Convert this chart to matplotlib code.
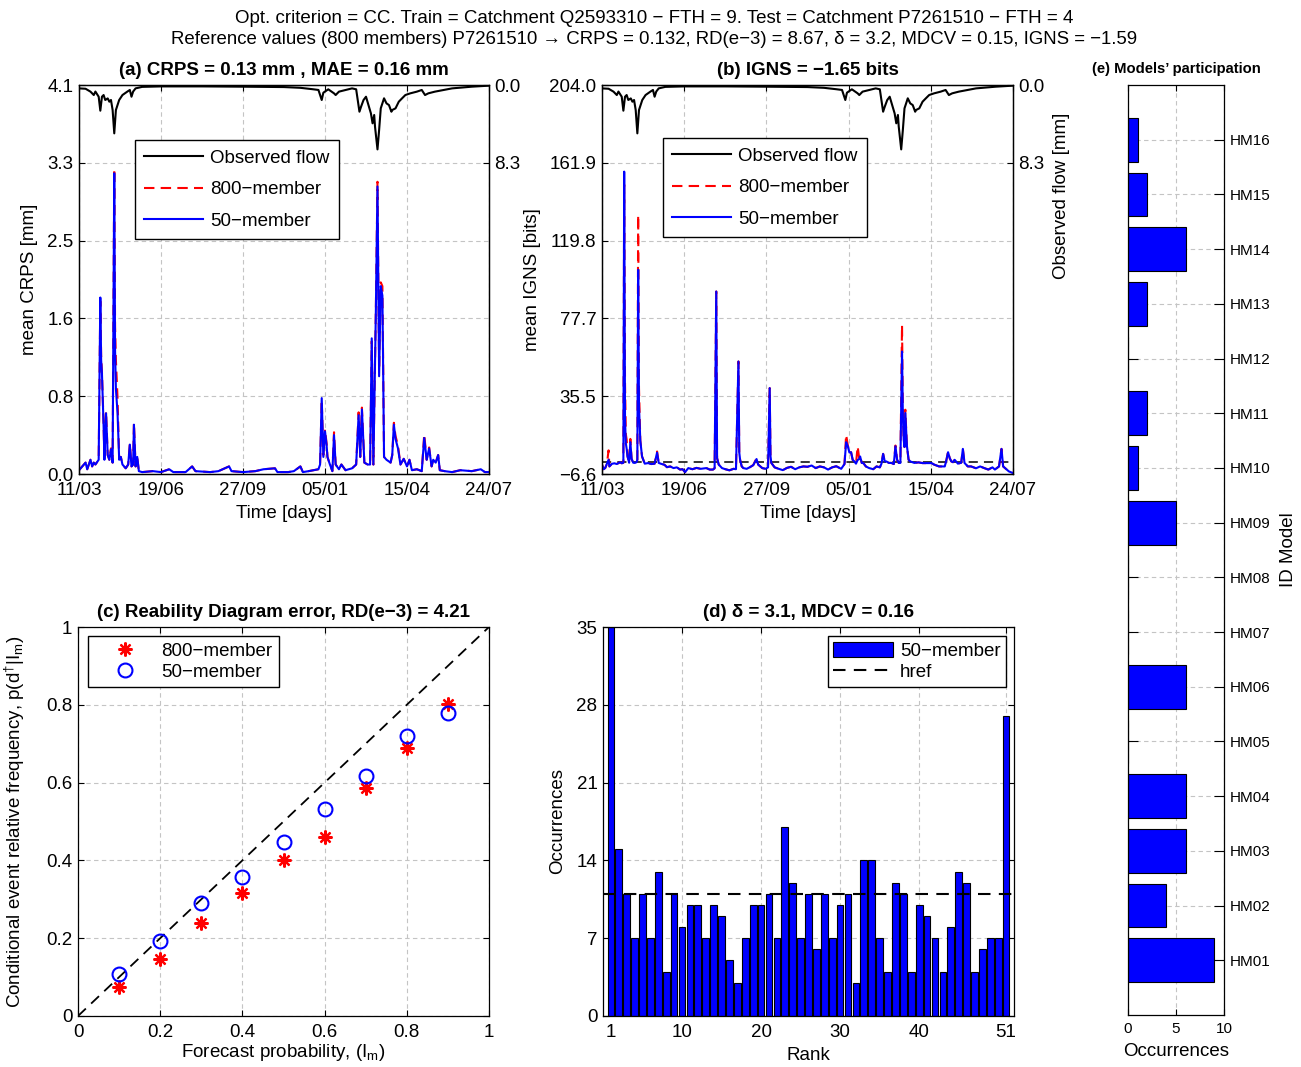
import numpy as np
import matplotlib
matplotlib.use('Agg')
import matplotlib.pyplot as plt
from matplotlib.lines import Line2D
from matplotlib.patches import Patch

plt.rcParams['font.family'] = ['Liberation Sans', 'DejaVu Sans']
plt.rcParams['mathtext.fontset'] = 'custom'
plt.rcParams['mathtext.rm'] = 'Liberation Sans'
plt.rcParams['mathtext.it'] = 'Liberation Sans:italic'
plt.rcParams['mathtext.default'] = 'regular'

# ---------------- data ----------------
date_ticks = [0, 100, 200, 300, 400, 500]
date_labels = ['11/03', '19/06', '27/09', '05/01', '15/04', '24/07']

# (a) mean CRPS time series (day index, value in mm)
crps_days = [0, 4, 8, 10, 14, 16, 18, 20, 24, 26,
             27, 28, 30, 31, 33, 35, 37, 39, 41, 43,
             44, 45, 47, 49, 51, 53, 57, 60, 62, 64,
             66, 67, 69, 71, 73, 77, 90, 100, 110, 115,
             130, 138, 142, 160, 170, 183, 186, 200, 215, 225,
             239, 242, 255, 262, 270, 273, 280, 292, 294, 296,
             298, 300, 302, 303, 306, 309, 311, 313, 317, 320,
             325, 333, 338, 341, 343, 345, 348, 352, 355, 357,
             359, 362, 364, 366, 368, 370, 372, 375, 380, 382,
             384, 386, 389, 392, 396, 400, 403, 406, 412, 418,
             421, 424, 427, 430, 432, 435, 438, 440, 446, 455,
             465, 479, 490, 495, 500]
crps_50 = [0.04, 0.08, 0.12, 0.05, 0.15, 0.08, 0.12, 0.10, 0.15, 1.86,
           1.20, 1.06, 0.50, 0.15, 0.64, 0.20, 0.15, 0.26, 0.12, 3.17,
           1.30, 0.90, 0.64, 0.15, 0.18, 0.10, 0.06, 0.10, 0.31, 0.08,
           0.10, 0.52, 0.08, 0.18, 0.03, 0.02, 0.03, 0.02, 0.05, 0.02,
           0.02, 0.08, 0.03, 0.02, 0.03, 0.08, 0.03, 0.02, 0.03, 0.05,
           0.06, 0.02, 0.02, 0.03, 0.08, 0.02, 0.03, 0.05, 0.10, 0.80,
           0.18, 0.45, 0.30, 0.18, 0.10, 0.03, 0.41, 0.10, 0.05, 0.10,
           0.04, 0.06, 0.10, 0.62, 0.18, 0.68, 0.12, 0.10, 0.10, 1.43,
           0.10, 1.70, 3.03, 1.03, 1.98, 1.88, 0.18, 0.15, 0.12, 0.20,
           0.52, 0.37, 0.27, 0.10, 0.16, 0.08, 0.15, 0.04, 0.05, 0.03,
           0.38, 0.15, 0.27, 0.08, 0.15, 0.12, 0.20, 0.04, 0.03, 0.02,
           0.04, 0.03, 0.05, 0.02, 0.02]
crps_800 = [0.04, 0.08, 0.12, 0.05, 0.15, 0.08, 0.12, 0.10, 0.15, 1.82,
            1.25, 1.07, 0.52, 0.15, 0.66, 0.20, 0.15, 0.27, 0.12, 3.22,
            1.55, 1.20, 0.80, 0.16, 0.18, 0.10, 0.06, 0.10, 0.32, 0.08,
            0.10, 0.54, 0.08, 0.18, 0.03, 0.02, 0.03, 0.02, 0.05, 0.02,
            0.02, 0.08, 0.03, 0.02, 0.03, 0.08, 0.03, 0.02, 0.03, 0.05,
            0.06, 0.02, 0.02, 0.03, 0.08, 0.02, 0.03, 0.05, 0.10, 0.78,
            0.20, 0.47, 0.32, 0.18, 0.10, 0.03, 0.44, 0.10, 0.05, 0.10,
            0.04, 0.06, 0.10, 0.65, 0.18, 0.70, 0.12, 0.10, 0.10, 1.40,
            0.10, 1.72, 3.08, 1.10, 2.02, 1.98, 0.18, 0.15, 0.12, 0.20,
            0.54, 0.40, 0.30, 0.10, 0.16, 0.08, 0.15, 0.04, 0.05, 0.03,
            0.42, 0.15, 0.28, 0.08, 0.15, 0.12, 0.20, 0.04, 0.03, 0.02,
            0.04, 0.03, 0.05, 0.02, 0.02]

# observed flow (mm), shown on reversed right axis
flow_days = [0, 8, 14, 18, 20, 24, 26, 28, 30, 32,
             35, 37, 39, 41, 43, 45, 49, 53, 59, 62,
             64, 66, 69, 77, 100, 150, 200, 250, 270, 285,
             292, 296, 298, 304, 311, 313, 317, 333, 338, 342,
             344, 347, 350, 353, 356, 358, 360, 361, 364, 366,
             368, 372, 375, 378, 381, 382, 386, 390, 394, 398,
             404, 412, 418, 422, 426, 434, 455, 479, 500]
flow_vals = [0.36, 0.40, 0.71, 1.07, 0.70, 1.25, 2.74, 1.25, 1.07, 1.60,
             1.43, 1.78, 1.60, 2.67, 5.16, 2.67, 1.60, 1.07, 0.70, 0.53,
             1.25, 0.70, 0.36, 0.20, 0.15, 0.15, 0.18, 0.22, 0.30, 0.45,
             0.53, 1.60, 0.82, 0.46, 0.89, 1.07, 0.71, 0.36, 0.46, 2.85,
             2.31, 1.60, 1.25, 2.14, 3.03, 4.09, 3.20, 4.45, 6.87, 4.80,
             2.49, 1.42, 1.96, 2.14, 2.85, 2.67, 2.49, 1.78, 1.42, 1.07,
             0.89, 0.71, 0.53, 1.07, 0.89, 0.71, 0.36, 0.18, 0.07]

# (b) mean IGNS time series (bits)
igns_days = [0, 2, 4, 6, 8, 9, 12, 15, 18, 22,
             24, 26, 27, 28, 29, 30, 31, 33, 34.5, 36,
             38, 40, 42, 43, 44, 45, 46.6, 48.7, 52, 56,
             60, 64, 67, 69, 72, 76, 79, 83, 87, 91,
             95, 98, 101, 103, 105, 110, 115, 120, 127, 131,
             135, 137, 139, 140, 142, 146, 150, 155, 160, 163,
             166, 167, 168, 170, 172, 176, 180, 184, 188, 190,
             195, 199, 202, 204, 205, 206, 210, 215, 220, 225,
             230, 235, 240, 245, 250, 255, 260, 265, 270, 275,
             280, 285, 291, 295, 297, 299, 301, 303, 305, 307,
             309, 311, 313, 314, 316, 318, 321, 325, 330, 334,
             338, 340, 342, 344, 346, 349, 352, 355, 357, 359,
             361, 363, 365, 366, 367, 368, 369, 371, 373, 375,
             380, 385, 390, 396, 401, 404, 410, 417, 419, 421,
             423, 425, 427, 429, 433, 437, 439, 441, 445, 449,
             455, 460, 465, 470, 475, 478, 483, 486, 488, 492,
             495, 500]
igns_50 = [-1.5, -4.0, -3.3, -1.0, 1.1, -2.5, -1.1, -0.8, -1.2, -0.2,
           -0.8, -0.5, 157.1, 22.8, 10.0, 7.0, 3.0, -0.5, 10.6, 1.6,
           -0.5, -0.6, -0.2, 1.1, 103.9, 30.0, 11.5, 2.9, -1.0, -0.7,
           -1.2, -1.0, 5.0, -0.6, -1.1, -1.6, -2.9, -2.5, -3.4, -3.0,
           -4.2, -4.0, -5.6, -4.5, -3.4, -4.0, -3.3, -3.8, -3.4, -4.2,
           -4.2, -3.5, 92.2, 2.0, -1.5, -3.4, -4.0, -4.6, -3.8, -4.0,
           54.3, 5.0, 1.1, -2.5, -3.4, -3.8, -2.9, -1.8, 1.5, -1.5,
           -3.4, -3.8, -3.0, 39.9, 3.0, -0.6, -3.0, -3.8, -4.5, -3.3,
           -2.7, -4.0, -3.0, -2.5, -2.7, -2.0, -3.4, -2.5, -3.0, -4.2,
           -3.0, -2.4, -3.8, -1.2, 10.6, 8.4, 5.0, 5.2, 1.0, 0.2,
           -1.0, 1.0, 1.5, 2.9, -0.6, -0.7, -2.5, -3.4, -4.0, -2.5,
           -3.0, -1.0, 4.3, 0.2, 0.2, -0.6, -0.6, -1.2, 8.4, 1.1,
           -0.6, -0.6, 59.7, 25.0, 12.0, 8.0, 26.4, 8.4, 1.1, 0.2,
           -0.6, -0.3, -0.7, -0.7, -0.7, -1.5, -2.5, -2.5, 1.0, 5.2,
           2.0, 0.2, -0.2, 1.1, -1.0, -0.5, 7.0, -0.6, -2.5, -2.5,
           -3.5, -2.5, -3.4, -4.2, -3.0, -4.2, -2.5, 7.0, -2.5, -4.0,
           -5.2, -6.1]
igns_800 = [-1.5, -4.0, -3.3, -1.0, 6.2, -2.5, -1.1, -0.8, -1.2, -0.2,
            -0.8, -0.5, 150.0, 42.6, 15.0, 12.0, 3.0, -0.5, 12.4, 1.6,
            -0.5, -0.6, -0.2, 1.1, 133.7, 40.0, 11.5, 2.9, -1.0, -0.7,
            -1.2, -1.0, 5.6, -0.6, -1.1, -1.6, -2.9, -2.5, -3.4, -3.0,
            -4.2, -4.0, -5.6, -4.5, -3.4, -4.0, -3.3, -3.8, -3.4, -4.2,
            -4.2, -3.5, 92.2, 2.0, -1.5, -3.4, -4.0, -4.6, -3.8, -4.0,
            54.3, 5.0, 1.1, -2.5, -3.4, -3.8, -2.9, -1.8, 2.0, -1.5,
            -3.4, -3.8, -3.0, 39.9, 3.0, -0.6, -3.0, -3.8, -4.5, -3.3,
            -2.7, -4.0, -3.0, -2.5, -2.7, -2.0, -3.4, -2.5, -3.0, -4.2,
            -3.0, -2.4, -3.8, -1.2, 14.7, 9.0, 5.0, 5.2, 1.0, 0.2,
            -1.0, 8.4, 1.5, 2.9, -0.6, -0.7, -2.5, -3.4, -4.0, -2.5,
            -3.0, -1.0, 4.3, 0.2, 0.2, -0.6, -0.6, -1.2, 8.8, 1.1,
            -0.6, -0.6, 74.1, 28.0, 12.0, 8.0, 28.2, 8.4, 1.1, 0.2,
            -0.6, -0.3, -0.7, -0.7, -0.7, -1.5, -2.5, -2.5, 1.0, 5.6,
            2.0, 0.2, -0.2, 1.1, -1.0, -0.5, 7.0, -0.6, -2.5, -2.5,
            -3.5, -2.5, -3.4, -4.2, -3.0, -4.2, -2.5, 7.0, -2.5, -4.0,
            -5.2, -6.1]
igns_zero = 0.0

# (c) reliability diagram
forecast_prob = [0.1, 0.2, 0.3, 0.4, 0.5, 0.6, 0.7, 0.8, 0.9]
rel_800 = [0.074, 0.146, 0.238, 0.317, 0.401, 0.460, 0.585, 0.690, 0.803]
rel_50 = [0.107, 0.193, 0.291, 0.357, 0.448, 0.531, 0.617, 0.719, 0.778]

# (d) rank histogram
ranks = list(range(1, 52))
rank_counts = [35, 15, 11, 7, 11, 7, 13, 4, 11, 8,
               10, 10, 7, 10, 9, 5, 3, 7, 10, 10,
               11, 7, 17, 12, 7, 11, 6, 11, 7, 10,
               11, 3, 14, 14, 7, 4, 12, 11, 4, 10,
               9, 7, 4, 8, 13, 12, 4, 6, 7, 7,
               27]
href = 11.0

# (e) models' participation
model_names = ['HM01', 'HM02', 'HM03', 'HM04', 'HM05', 'HM06', 'HM07', 'HM08',
               'HM09', 'HM10', 'HM11', 'HM12', 'HM13', 'HM14', 'HM15', 'HM16']
participation = [9, 4, 6, 6, 0, 6, 0, 0, 5, 1, 2, 0, 2, 6, 2, 1]

# ---------------- figure ----------------
W, H = 1301, 1067
fig = plt.figure(figsize=(W / 100, H / 100), dpi=100)

def rect(l, t, r, b):
    return [l / W, 1 - b / H, (r - l) / W, (b - t) / H]

GRID = dict(color='#c4c4c4', linestyle=(0, (4, 3)), linewidth=0.8)
FS = 13.5
TFS = 13.5

def style(ax, fs=FS, right=True):
    ax.tick_params(direction='in', length=4, width=0.8, labelsize=fs, pad=4,
                   top=True, right=right)
    ax.tick_params(axis='x', pad=6)
    for s in ax.spines.values():
        s.set_linewidth(0.9)
    ax.grid(True, **GRID)
    ax.set_axisbelow(True)

def leg_style(leg):
    fr = leg.get_frame()
    fr.set_edgecolor('black')
    fr.set_linewidth(1.0)
    fr.set_boxstyle('square', pad=0)

fig.text(0.503, 1 - 18.5 / H,
         'Opt. criterion = CC. Train = Catchment Q2593310 \u2212 FTH = 9. Test = Catchment P7261510 \u2212 FTH = 4',
         ha='center', va='center', fontsize=13.5)
fig.text(0.503, 1 - 40 / H,
         'Reference values (800 members) P7261510 \u2192 CRPS = 0.132, RD(e\u22123) = 8.67, \u03b4 = 3.2, MDCV = 0.15, IGNS = \u22121.59',
         ha='center', va='center', fontsize=13.4)

def ts_panel(pos, days, v800, v50, ylim, yticks, ylabels, title, ylabel, ylx, right_label):
    ax = fig.add_axes(pos)
    ax.plot(days, v800, color='red', lw=1.5, ls=(0, (5, 3)), zorder=3)
    ax.plot(days, v50, color='blue', lw=1.5, zorder=4)
    ax.set_xlim(0, 500)
    ax.set_ylim(*ylim)
    ax.set_xticks(date_ticks)
    ax.set_xticklabels(date_labels)
    ax.set_yticks(yticks)
    ax.set_yticklabels(ylabels)
    style(ax, right=False)
    ax.set_title(title, fontsize=TFS, fontweight='bold', pad=7)
    ax.set_xlabel('Time [days]', fontsize=FS)
    ax.xaxis.set_label_coords(0.5, -0.08)
    ax.set_ylabel(ylabel, fontsize=FS)
    ax.yaxis.set_label_coords(ylx, 0.5)
    ax2 = ax.twinx()
    ax2.plot(flow_days, flow_vals, color='black', lw=1.5)
    ax2.set_ylim(41.5, 0)
    ax2.set_yticks([0, 8.3])
    ax2.set_yticklabels(['0.0', '8.3'])
    ax2.tick_params(direction='in', length=4, width=0.8, labelsize=FS, pad=4)
    for s in ax2.spines.values():
        s.set_linewidth(0.9)
    if right_label:
        ax2.set_ylabel('Observed flow [mm]', fontsize=FS)
        ax2.yaxis.set_label_coords(1.097, 0.715)
    handles = [Line2D([], [], color='black', lw=1.5),
               Line2D([], [], color='red', lw=1.5, ls=(0, (5, 3))),
               Line2D([], [], color='blue', lw=1.5)]
    return ax, ax2, handles

LEGA = dict(borderaxespad=0, fontsize=FS, handlelength=3.1, handletextpad=0.4,
            labelspacing=0.78, borderpad=0.5, fancybox=False, framealpha=1)

# (a)
axa, axa2, hd = ts_panel(rect(79, 85, 489, 474), crps_days, crps_800, crps_50,
                         (0, 4.1), np.linspace(0, 4.1, 6),
                         ['0.0', '0.8', '1.6', '2.5', '3.3', '4.1'],
                         '(a) CRPS = 0.13 mm , MAE = 0.16 mm', 'mean CRPS [mm]', -0.10, False)
leg = axa2.legend(hd, ['Observed flow', '800\u2212member', '50\u2212member'],
                  loc='upper left', bbox_to_anchor=((135 - 79) / 410, (474 - 140) / 389), **LEGA)
leg_style(leg)

# (b)
axb, axb2, hd = ts_panel(rect(602, 85, 1013, 474), igns_days, igns_800, igns_50,
                         (-6.6, 204.0), np.linspace(-6.6, 204.0, 6),
                         ['\u22126.6', '35.5', '77.7', '119.8', '161.9', '204.0'],
                         '(b) IGNS = \u22121.65 bits', 'mean IGNS [bits]', -0.148, True)
axb.axhline(igns_zero, color='black', lw=1.1, ls=(0, (6, 4)), zorder=2)
leg = axb2.legend(hd, ['Observed flow', '800\u2212member', '50\u2212member'],
                  loc='upper left', bbox_to_anchor=((663 - 602) / 411, (474 - 138) / 389), **LEGA)
leg_style(leg)

# (c)
axc = fig.add_axes(rect(78, 627, 489, 1016))
axc.plot([0, 1], [0, 1], color='black', lw=1.3, ls=(0, (6, 4)))
axc.plot(forecast_prob, rel_800, ls='none', marker=(8, 2, 0), ms=10, mew=1.6,
         color='red', label='800\u2212member')
axc.plot(forecast_prob, rel_50, ls='none', marker='o', ms=10, mew=1.5,
         mfc='none', mec='blue', label='50\u2212member')
axc.set_xlim(0, 1)
axc.set_ylim(0, 1)
ticks_c = [0, 0.2, 0.4, 0.6, 0.8, 1]
axc.set_xticks(ticks_c)
axc.set_xticklabels(['0', '0.2', '0.4', '0.6', '0.8', '1'])
axc.set_yticks(ticks_c)
axc.set_yticklabels(['0', '0.2', '0.4', '0.6', '0.8', '1'])
style(axc)
axc.set_title('(c) Reability Diagram error, RD(e\u22123) = 4.21', fontsize=TFS,
              fontweight='bold', pad=7)
axc.set_xlabel(r'Forecast probability, (I$_{\mathrm{m}}$)', fontsize=FS)
axc.xaxis.set_label_coords(0.5, -0.068)
axc.set_ylabel(r'Conditional event relative frequency, p(d$^{\dagger}$|I$_{\mathrm{m}}$)', fontsize=FS)
axc.yaxis.set_label_coords(-0.124, 0.5)
leg = axc.legend(loc='upper left', bbox_to_anchor=((88 - 78) / 411, (1016 - 636) / 389),
                 borderaxespad=0, fontsize=FS, numpoints=1, handlelength=3.2,
                 handletextpad=0.35, labelspacing=0.2, borderpad=0.35,
                 fancybox=False, framealpha=1)
leg_style(leg)

# (d)
axd = fig.add_axes(rect(603, 627, 1014, 1016))
bars = axd.bar(ranks, rank_counts, width=0.85, color='#0000ff', edgecolor='black',
               linewidth=0.8, zorder=2)
hline = axd.axhline(href, color='black', lw=1.5, ls=(0, (6, 4)), zorder=3)
axd.set_xlim(0, 52)
axd.set_ylim(0, 35)
axd.set_xticks([1, 10, 20, 30, 40, 51])
axd.set_yticks([0, 7, 14, 21, 28, 35])
style(axd)
axd.set_title('(d) \u03b4 = 3.1, MDCV = 0.16', fontsize=TFS, fontweight='bold', pad=7)
axd.set_xlabel('Rank', fontsize=FS)
axd.xaxis.set_label_coords(0.5, -0.08)
axd.set_ylabel('Occurrences', fontsize=FS)
axd.yaxis.set_label_coords(-0.09, 0.5)
leg = axd.legend([Patch(facecolor='#0000ff', edgecolor='black', linewidth=0.8),
                  Line2D([], [], color='black', lw=1.5, ls=(0, (6, 4)))],
                 ['50\u2212member', 'href'],
                 loc='upper right', bbox_to_anchor=((1006 - 603) / 411, (1016 - 636) / 389),
                 borderaxespad=0, fontsize=FS, handlelength=3.2, handleheight=0.9,
                 handletextpad=0.35, labelspacing=0.15, borderpad=0.3,
                 fancybox=False, framealpha=1)
leg_style(leg)

# (e)
axe = fig.add_axes(rect(1128, 85, 1224, 1015))
ypos = list(range(1, len(model_names) + 1))
axe.barh(ypos, participation, height=0.8, color='#0000ff', edgecolor='black',
         linewidth=0.8, zorder=2)
axe.set_xlim(0, 10)
axe.set_ylim(0, 17)
axe.set_xticks([0, 5, 10])
axe.set_yticks(ypos)
axe.set_yticklabels(model_names)
axe.grid(True, **GRID)
axe.set_axisbelow(True)
axe.tick_params(axis='y', direction='in', length=7, width=0.8, labelsize=11,
                left=True, right=True, labelleft=False, labelright=True, pad=4)
axe.tick_params(axis='x', direction='in', length=4, width=0.8, labelsize=11,
                top=True, pad=5)
for s in axe.spines.values():
    s.set_linewidth(0.9)
axe.set_title('(e) Models\u2019 participation', fontsize=10.6, fontweight='bold', pad=9)
axe.set_xlabel('Occurrences', fontsize=FS)
axe.xaxis.set_label_coords(0.5, -0.030)
axe.yaxis.set_label_position('right')
axe.set_ylabel('ID Model', fontsize=FS)
axe.yaxis.set_label_coords(1.58, 0.5)

fig.savefig('out.png', dpi=100)
